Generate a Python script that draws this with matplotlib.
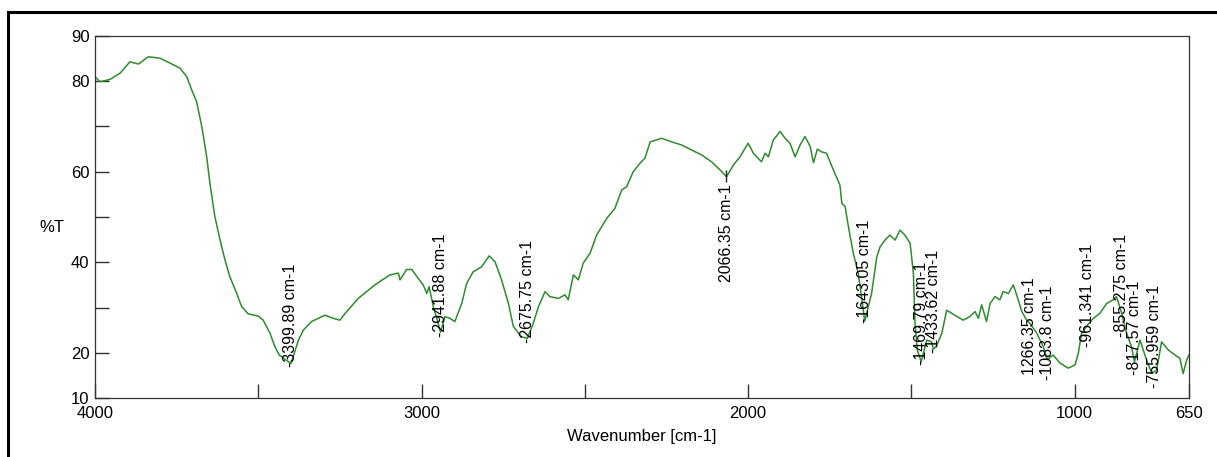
import matplotlib
matplotlib.use("Agg")
import matplotlib.pyplot as plt
from matplotlib.patches import Rectangle

plt.rcParams['font.family'] = ['Liberation Sans', 'DejaVu Sans']

# FTIR spectrum
wavenumber = [4000, 3985, 3954, 3923, 3893, 3867, 3837, 3801, 3770, 3740, 3719, 3704, 3689,
              3673, 3658, 3648, 3633, 3617, 3602, 3587, 3566, 3551, 3531, 3500, 3485, 3464,
              3449, 3436, 3408, 3400, 3377, 3362, 3337, 3296, 3270, 3250, 3234, 3194, 3143,
              3097, 3071, 3066, 3046, 3030, 3010, 2995, 2984, 2977, 2964, 2949, 2942, 2928,
              2913, 2898, 2877, 2862, 2842, 2816, 2793, 2775, 2755, 2734, 2719, 2694, 2676,
              2658, 2642, 2622, 2607, 2581, 2561, 2551, 2535, 2520, 2505, 2484, 2464, 2433,
              2408, 2387, 2372, 2352, 2331, 2316, 2300, 2265, 2234, 2203, 2173, 2142, 2112,
              2086, 2066, 2045, 2025, 2000, 1984, 1974, 1959, 1948, 1938, 1923, 1902, 1887,
              1872, 1856, 1841, 1826, 1810, 1800, 1788, 1775, 1760, 1739, 1719, 1713, 1703,
              1693, 1678, 1663, 1650, 1643, 1622, 1606, 1596, 1581, 1566, 1550, 1535, 1520,
              1504, 1494, 1489, 1482, 1470, 1453, 1438, 1433, 1423, 1407, 1392, 1367, 1341,
              1321, 1305, 1295, 1285, 1270, 1259, 1244, 1229, 1219, 1203, 1188, 1176, 1162,
              1147, 1137, 1116, 1096, 1084, 1066, 1045, 1020, 999, 989, 979, 961, 943, 923,
              902, 882, 872, 856, 841, 826, 817, 800, 780, 764, 749, 734, 713, 693, 678, 668,
              657, 650]
transmittance = [81.0, 79.9, 80.4, 81.8, 84.3, 83.8, 85.4, 85.1, 84.0, 82.9, 81.0, 78.1, 75.5,
                 70.0, 63.3, 57.4, 50.1, 44.9, 40.5, 36.8, 33.1, 30.2, 28.6, 28.1, 27.2, 24.3,
                 21.3, 19.5, 18.0, 17.6, 22.8, 25.0, 26.9, 28.3, 27.6, 27.2, 28.7, 32.0, 35.0,
                 37.2, 37.6, 36.1, 38.4, 38.4, 36.4, 35.0, 33.1, 34.6, 30.2, 26.5, 24.5, 28.0,
                 27.6, 26.9, 30.9, 35.3, 37.9, 39.0, 41.4, 40.1, 36.1, 30.9, 25.8, 23.5, 23.2,
                 26.5, 30.2, 33.5, 32.4, 32.0, 32.8, 31.7, 37.2, 36.1, 39.8, 42.0, 46.0, 49.7,
                 51.9, 56.0, 56.7, 60.0, 61.9, 63.0, 66.6, 67.4, 66.6, 65.9, 64.8, 63.7, 62.2,
                 60.4, 58.9, 61.5, 63.3, 66.3, 64.1, 63.3, 62.2, 64.1, 63.3, 67.0, 68.9, 67.4,
                 66.3, 63.3, 65.9, 67.8, 65.6, 62.0, 65.0, 64.4, 64.1, 60.4, 57.1, 53.0, 52.3,
                 47.9, 42.0, 37.6, 30.9, 27.0, 33.1, 41.2, 43.4, 44.9, 46.0, 44.9, 47.1, 46.0,
                 44.2, 37.6, 26.5, 20.6, 18.0, 22.8, 22.4, 20.8, 21.5, 24.3, 29.4, 28.3, 27.2,
                 28.0, 29.1, 27.6, 30.6, 26.9, 30.9, 32.4, 31.7, 33.5, 33.1, 35.0, 32.4, 29.1,
                 27.2, 26.5, 24.3, 21.3, 18.5, 19.5, 17.7, 16.6, 17.3, 19.9, 24.3, 26.1, 27.6,
                 28.7, 30.9, 31.7, 32.4, 28.7, 24.3, 21.3, 18.0, 22.8, 18.4, 15.4, 16.2, 22.4,
                 20.6, 19.5, 18.8, 15.4, 18.4, 19.5]

# peak labels: where the label sits, its text and which way it hangs
peak_wn = [3399.89, 2941.88, 2675.75, 2066.35, 1643.05, 1469.79, 1433.62, 1266.35,
           1083.8, 961.341, 855.275, 817.57, 755.959]
peak_label_wn = [3399.89, 2941.88, 2675.75, 2066.35, 1643.05, 1469.79, 1433.62, 1137,
                 1083.8, 961.341, 855.275, 817.57, 755.959]
peak_label_T = [16.9, 23.5, 22.2, 57.3, 26.6, 17.3, 19.9, 15.1, 14.0, 21.3, 23.5, 15.1, 12.2]
peak_labels = ['-3399.89 cm-1', '-2941.88 cm-1', '-2675.75 cm-1', '2066.35 cm-1',
               '-1643.05 cm-1', '-1469.79 cm-1', '-1433.62 cm-1', '1266.35 cm-1',
               '-1083.8 cm-1', '-961.341 cm-1', '-855.275 cm-1', '-817.57 cm-1',
               '-755.959 cm-1']
peak_down = [False, False, False, True, False, False, False, False,
             False, False, False, False, False]

x_ticks = [4000, 3500, 3000, 2500, 2000, 1500, 1000, 650]
x_ticklabels = ['4000', '', '3000', '', '2000', '', '1000', '650']
y_ticks = [10, 20, 30, 40, 50, 60, 70, 80, 90]
y_ticklabels = ['10', '20', '', '40', '', '60', '', '80', '90']

fig = plt.figure(figsize=(12.17, 4.57), dpi=100)
ax = fig.add_axes([95 / 1217, 1 - 398 / 457, (1189 - 95) / 1217, (398 - 36) / 457])

ax.plot(wavenumber, transmittance, color='#2e8b2e', lw=1.1)

for wn, lwn, t, lab, down in zip(peak_wn, peak_label_wn, peak_label_T, peak_labels, peak_down):
    if down:
        # small tick on the curve, text hanging below it
        ax.plot([wn], [t + 1.8], marker='|', color='#222222', ms=9, mew=1)
        ax.text(lwn, t, lab, rotation=90, ha='center', va='top', fontsize=11.5)
    else:
        ax.text(lwn, t, lab, rotation=90, ha='center', va='bottom', fontsize=11.5)

ax.set_xlim(4000, 650)
ax.set_ylim(10, 90)
ax.set_xticks(x_ticks)
ax.set_xticklabels(x_ticklabels)
ax.set_yticks(y_ticks)
ax.set_yticklabels(y_ticklabels)
ax.tick_params(direction='in', length=10, width=1, labelsize=12, color='#333333')
ax.tick_params(axis='x', pad=6)
ax.tick_params(axis='y', pad=4)
for sp in ax.spines.values():
    sp.set_linewidth(0.9)
    sp.set_color('#333333')

fig.text(52 / 1217, 1 - 228 / 457, '%T', ha='center', va='center', fontsize=12)
fig.text(642 / 1217, 1 - 436 / 457, 'Wavenumber [cm-1]', ha='center', va='center', fontsize=12)

# heavy frame round the figure, cut off at right and bottom like the picture
fig.patches.append(Rectangle((8 / 1217, -0.05), 1.0, 1 - 12 / 457 + 0.05,
                             transform=fig.transFigure, fill=False, lw=2.2, ec='black'))

fig.savefig('out.png', dpi=100)
